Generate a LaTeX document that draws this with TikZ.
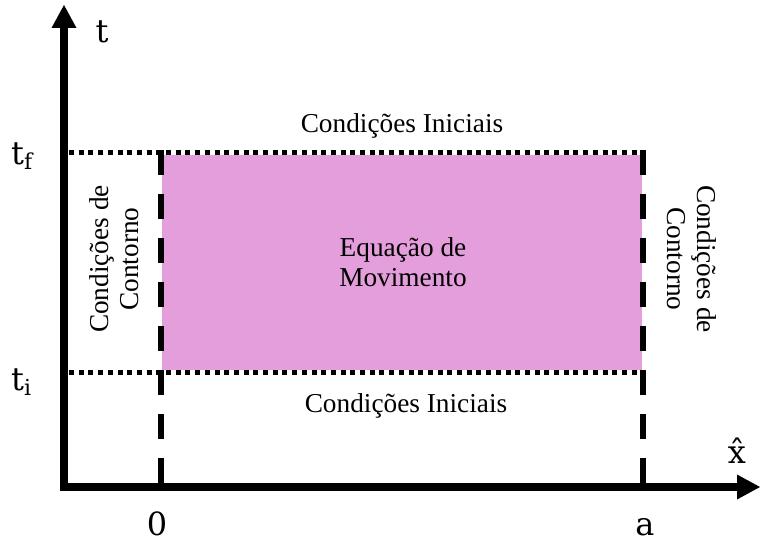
\documentclass[tikz,border=0pt]{standalone}
\usepackage{fontspec}
\setmainfont{Liberation Serif}
\newfontfamily\lblfont{DejaVu Serif}
\usetikzlibrary{arrows.meta}
\definecolor{regionpink}{RGB}{228,158,219}
\begin{document}
\begin{tikzpicture}[x=1pt,y=-1pt,
  axistip/.tip={Triangle[length=23pt,width=25pt,line width=0pt]},
  axisline/.style={line width=8pt, line join=miter, axistip-axistip},
  boundary/.style={line width=6pt, dash pattern=on 25pt off 19pt},
  instant/.style={line width=5pt, dash pattern=on 5pt off 4.7pt},
  cond/.style={font=\fontsize{27.3}{30}\selectfont, align=center, inner sep=0pt},
  axlabel/.style={font=\lblfont\fontsize{32}{38}\selectfont, inner sep=0pt, anchor=base}]
  \useasboundingbox (0,0) rectangle (760,545);

  % corners of the space-time domain
  \coordinate (ti0) at (161,372);
  \coordinate (tia) at (643,372);
  \coordinate (tf0) at (161,153);
  \coordinate (tfa) at (643,153);
  \coordinate (origin) at (64,487);
  \coordinate (ttop) at (64,5);
  \coordinate (xend) at (760,487);
  \coordinate (b0) at (161,484);
  \coordinate (ba) at (643,484);
  \coordinate (tfleft) at (69,153);
  \coordinate (tileft) at (69,372);

  % interior region
  \fill[regionpink] (162,155.5) rectangle (642,369.5);

  % initial / final time lines
  \draw[instant] (tfleft) -- (tfa);
  \draw[instant] (tileft) -- (tia);

  % boundary lines x = 0 and x = a
  \draw[boundary] (161,150) -- (b0);
  \draw[boundary] (643,150) -- (ba);

  % axes
  \draw[axisline] (ttop) -- (origin) -- (xend);

  % axis labels
  \node[axlabel] (tlab) at (102,43) {t};
  \node[axlabel, anchor=base west] (tflab) at (11,165) {t\raisebox{-5pt}{\fontsize{22}{26}\selectfont f}};
  \node[axlabel, anchor=base west] (tilab) at (11,390) {t\raisebox{-5pt}{\fontsize{22}{26}\selectfont i}};
  \node[axlabel] (zerolab) at (157,535) {0};
  \node[axlabel] (alab) at (645,535) {a};
  \node[axlabel] (xlab) at (737,463) {\^{x}};

  % region labels
  \node[cond, anchor=base] (topcond) at (402,133) {Condições Iniciais};
  \node[cond, anchor=base] (botcond) at (406,412) {Condições Iniciais};
  \node[cond] (motion) at (403,262) {Equação de\\Movimento};
  \node[cond, rotate=90] (leftcond) at (114,259) {Condições de\\Contorno};
  \node[cond, rotate=-90] (rightcond) at (692,259) {Condições de\\Contorno};
\end{tikzpicture}
\end{document}
